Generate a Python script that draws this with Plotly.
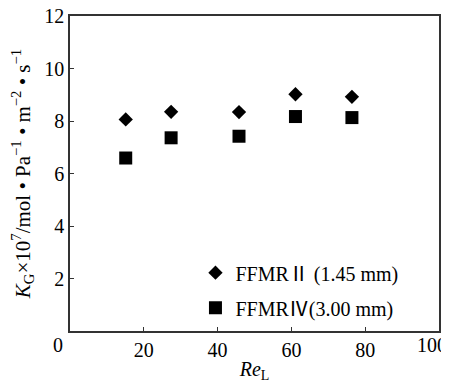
import plotly.graph_objects as go

re_l = [15.1, 27.4, 45.8, 61.1, 76.4]
kg_ffmr2 = [8.06, 8.35, 8.34, 9.02, 8.92]
kg_ffmr4 = [6.59, 7.36, 7.42, 8.17, 8.13]
x_ticks = [20, 40, 60, 80]
y_ticks = [2, 4, 6, 8, 10, 12]

FONT = "Liberation Serif, Noto Sans CJK SC, Times New Roman, serif"

fig = go.Figure()
fig.add_trace(go.Scatter(
    x=re_l, y=kg_ffmr2, mode="markers", name="FFMRⅡ (1.45 mm)",
    legendgroup="a",
    marker=dict(symbol="diamond", size=11, color="black"),
))
fig.add_trace(go.Scatter(
    x=re_l, y=kg_ffmr4, mode="markers", name="FFMRⅣ(3.00 mm)",
    legendgroup="b",
    marker=dict(symbol="square", size=13, color="black"),
))

axis_common = dict(
    showgrid=False, zeroline=False, showline=True, linecolor="#333333",
    linewidth=1.5, mirror=True, ticks="inside", ticklen=4, tickwidth=1.2,
    tickcolor="#333333", tickfont=dict(family=FONT, size=20, color="black"),
    ticklabeloverflow="allow", automargin=False,
)

fig.update_xaxes(range=[0, 100], tickvals=x_ticks + [100], ticktext=[str(v) for v in x_ticks] + [""],
                 title=dict(text="<i>Re</i><sub>L</sub>", font=dict(family=FONT, size=20, color="black"),
                            standoff=2),
                 **axis_common)
fig.update_yaxes(range=[0, 12], tickvals=y_ticks, ticktext=[str(v) for v in y_ticks],
                 title=dict(text="<i>K</i><sub>G</sub>×10<sup>7</sup>/mol • Pa<sup>−1</sup> • m<sup>−2</sup> • s<sup>−1</sup>",
                            font=dict(family=FONT, size=21, color="black"), standoff=14),
                 **axis_common)

fig.add_annotation(text="0", x=-0.032, y=-0.045, xref="paper", yref="paper",
                   showarrow=False, xanchor="center", yanchor="middle",
                   font=dict(family=FONT, size=20, color="black"))
fig.add_annotation(text="100", x=1.028, y=-0.045, xref="paper", yref="paper",
                   showarrow=False, xanchor="right", yanchor="middle",
                   font=dict(family=FONT, size=20, color="black"))

fig.update_layout(
    width=441, height=375,
    margin=dict(l=62, r=10, t=8, b=52, autoexpand=False),
    paper_bgcolor="white", plot_bgcolor="white",
    showlegend=True,
    legend=dict(x=0.34, y=0.012, xanchor="left", yanchor="bottom",
                font=dict(family=FONT, size=20, color="black"),
                bgcolor="rgba(0,0,0,0)", tracegroupgap=6,
                itemwidth=30),
)

fig.write_html("out.html")
